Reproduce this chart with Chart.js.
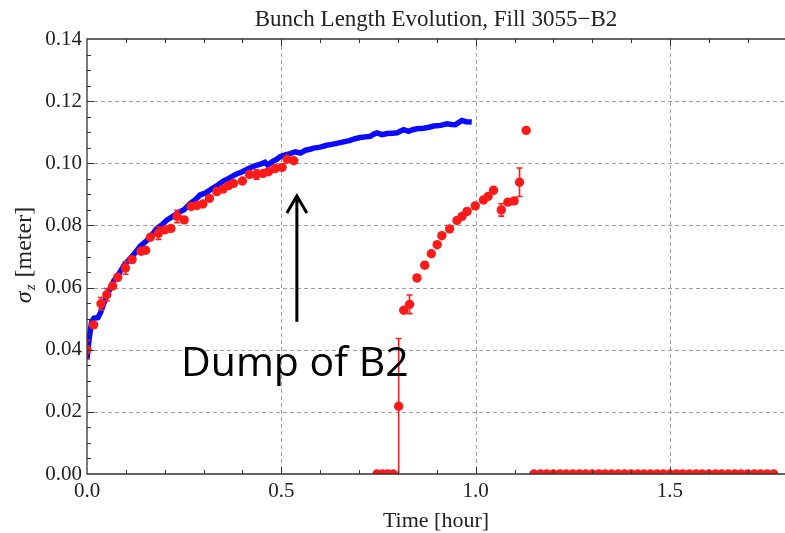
<!DOCTYPE html>
<html>
<head>
<meta charset="utf-8">
<script src="https://cdn.jsdelivr.net/npm/chart.js@4.4.1/dist/chart.umd.min.js"></script>
<style>
  html, body { margin: 0; padding: 0; background: #fff; }
  #wrap { width: 785px; height: 533px; }
</style>
</head>
<body>
<div id="wrap"><canvas id="bunchChart" width="785" height="533"></canvas></div>
<script>
// Bunch length evolution data (time in hours, sigma_z in meters)

// Simulated bunch length (blue curve)
const blueTime = [0.000, 0.006, 0.012, 0.018, 0.028, 0.035, 0.042, 0.055, 0.069, 0.080,
    0.094, 0.107, 0.120, 0.137, 0.154, 0.166, 0.180, 0.193, 0.206, 0.222,
    0.240, 0.249, 0.266, 0.278, 0.291, 0.306, 0.322, 0.337, 0.351, 0.366,
    0.382, 0.398, 0.416, 0.430, 0.446, 0.458, 0.465, 0.476, 0.487, 0.497,
    0.510, 0.523, 0.536, 0.549, 0.562, 0.574, 0.583, 0.600, 0.617, 0.626,
    0.643, 0.660, 0.675, 0.690, 0.703, 0.716, 0.729, 0.738, 0.746, 0.759,
    0.772, 0.785, 0.798, 0.807, 0.815, 0.827, 0.838, 0.849, 0.866, 0.880,
    0.892, 0.910, 0.926, 0.938, 0.948, 0.956, 0.965, 0.975, 0.990];
const blueSigma = [0.0370, 0.0440, 0.0490, 0.0502, 0.0503, 0.0520, 0.0545, 0.0585, 0.0622, 0.0640,
    0.0669, 0.0688, 0.0706, 0.0733, 0.0751, 0.0768, 0.0791, 0.0802, 0.0818, 0.0830,
    0.0845, 0.0850, 0.0871, 0.0882, 0.0898, 0.0905, 0.0919, 0.0930, 0.0943, 0.0952,
    0.0964, 0.0972, 0.0983, 0.0991, 0.0997, 0.1003, 0.0994, 0.1005, 0.1012, 0.1021,
    0.1027, 0.1031, 0.1037, 0.1033, 0.1042, 0.1045, 0.1049, 0.1052, 0.1058, 0.1060,
    0.1064, 0.1069, 0.1073, 0.1079, 0.1083, 0.1085, 0.1087, 0.1094, 0.1098, 0.1092,
    0.1096, 0.1097, 0.1098, 0.1104, 0.1108, 0.1103, 0.1108, 0.1111, 0.1113, 0.1116,
    0.1120, 0.1122, 0.1127, 0.1125, 0.1124, 0.1131, 0.1138, 0.1134, 0.1133];

// Measured bunch length (red points) with error
const redTime = [0.000, 0.017, 0.036, 0.051, 0.066, 0.079, 0.099, 0.116, 0.139, 0.151,
    0.163, 0.184, 0.201, 0.216, 0.232, 0.250, 0.268, 0.283, 0.298, 0.315,
    0.334, 0.350, 0.364, 0.377, 0.400, 0.418, 0.436, 0.453, 0.467, 0.484,
    0.502, 0.515, 0.532,
    0.746, 0.760, 0.774, 0.788, 0.802,
    0.815, 0.830, 0.849, 0.869, 0.886, 0.901, 0.913, 0.933, 0.952, 0.965,
    0.978, 0.999, 1.020, 1.032, 1.046, 1.066, 1.083, 1.099, 1.113, 1.130,
    1.150, 1.167, 1.183, 1.200, 1.217, 1.233, 1.250, 1.267, 1.283, 1.300,
    1.317, 1.333, 1.350, 1.367, 1.383, 1.400, 1.417, 1.433, 1.450, 1.467,
    1.483, 1.500, 1.517, 1.533, 1.550, 1.567, 1.583, 1.600, 1.617, 1.633,
    1.650, 1.667, 1.683, 1.700, 1.717, 1.733, 1.750, 1.767];
const redSigma = [0.0400, 0.0480, 0.0548, 0.0577, 0.0605, 0.0633, 0.0663, 0.0690, 0.0717, 0.0720,
    0.0762, 0.0775, 0.0786, 0.0790, 0.0829, 0.0818, 0.0861, 0.0864, 0.0869, 0.0887,
    0.0909, 0.0917, 0.0928, 0.0935, 0.0943, 0.0964, 0.0964, 0.0967, 0.0973, 0.0983,
    0.0987, 0.1013, 0.1008,
    0, 0, 0, 0, 0.0218,
    0.0527, 0.0546, 0.0631, 0.0672, 0.0709, 0.0738, 0.0767, 0.0789, 0.0816, 0.0829,
    0.0845, 0.0863, 0.0882, 0.0893, 0.0913, 0.0850, 0.0875, 0.0879, 0.0939, 0.1106,
    0, 0, 0, 0, 0, 0, 0, 0, 0, 0,
    0, 0, 0, 0, 0, 0, 0, 0, 0, 0,
    0, 0, 0, 0, 0, 0, 0, 0, 0, 0,
    0, 0, 0, 0, 0, 0, 0, 0];
const redErr = [0.0030, 0, 0.0020, 0.0020, 0, 0.0010, 0.0020, 0, 0, 0,
    0, 0.0020, 0, 0, 0.0020, 0, 0, 0, 0, 0,
    0, 0, 0, 0, 0, 0, 0.0015, 0, 0, 0,
    0, 0, 0,
    0, 0, 0, 0, 0.0218,
    0, 0.0030, 0.0010, 0.0010, 0, 0, 0, 0, 0, 0,
    0, 0, 0, 0, 0, 0.0020, 0, 0, 0.0046, 0];

// Axis ticks
const xTicks = [0.0, 0.5, 1.0, 1.5];
const yTicks = [0.00, 0.02, 0.04, 0.06, 0.08, 0.10, 0.12, 0.14];
const xMinorStep = 0.1;
const yMinorStep = 0.005;

// Annotation (arrow pointing at dump time)
const dumpLabel = 'Dump of B2';
const arrowTime = 0.54;
const arrowFrom = 0.049;
const arrowTo = 0.0895;

const serif = "'Liberation Serif', 'Times New Roman', serif";

function toPoints(xs, ys) {
    return xs.map((x, i) => ({ x: x, y: ys[i] }));
}

// Draws dashed grid, frame, inward ticks, axis titles and the annotation
const framePlugin = {
    id: 'framePlugin',
    beforeDatasetsDraw(chart) {
        const { ctx, chartArea: a, scales } = chart;
        ctx.save();
        ctx.strokeStyle = '#a0a0a0';
        ctx.lineWidth = 1;
        ctx.setLineDash([4, 3]);
        xTicks.forEach(v => {
            if (v === 0) return;
            const px = Math.round(scales.x.getPixelForValue(v)) + 0.5;
            ctx.beginPath();
            ctx.moveTo(px, a.top);
            ctx.lineTo(px, a.bottom);
            ctx.stroke();
        });
        yTicks.forEach(v => {
            if (v === 0 || v === 0.14) return;
            const py = Math.round(scales.y.getPixelForValue(v)) + 0.5;
            ctx.beginPath();
            ctx.moveTo(a.left, py);
            ctx.lineTo(a.right, py);
            ctx.stroke();
        });
        ctx.restore();
    },
    afterDatasetsDraw(chart) {
        const { ctx, chartArea: a, scales } = chart;
        ctx.save();

        // error bars
        ctx.strokeStyle = '#ff1a1a';
        ctx.lineWidth = 1.6;
        ctx.beginPath();
        ctx.rect(a.left, a.top, a.right - a.left, a.bottom - a.top);
        ctx.clip();
        redErr.forEach((e, i) => {
            if (!e) return;
            const px = scales.x.getPixelForValue(redTime[i]);
            const top = scales.y.getPixelForValue(redSigma[i] + e);
            const bot = scales.y.getPixelForValue(Math.max(redSigma[i] - e, 0));
            ctx.beginPath();
            ctx.moveTo(px, top);
            ctx.lineTo(px, bot);
            ctx.moveTo(px - 3, top);
            ctx.lineTo(px + 3, top);
            if (redSigma[i] - e > 0) {
                ctx.moveTo(px - 3, bot);
                ctx.lineTo(px + 3, bot);
            }
            ctx.stroke();
        });
        ctx.restore();

        ctx.save();
        // frame
        ctx.strokeStyle = '#333';
        ctx.lineWidth = 1.3;
        ctx.beginPath();
        ctx.moveTo(a.right, a.top);
        ctx.lineTo(a.left, a.top);
        ctx.lineTo(a.left, a.bottom);
        ctx.lineTo(a.right, a.bottom);
        ctx.stroke();

        // inward ticks
        ctx.lineWidth = 1;
        for (let k = 1; k * xMinorStep < scales.x.max; k++) {
            const v = k * xMinorStep;
            const len = k % 5 === 0 ? 7 : 4;
            const px = Math.round(scales.x.getPixelForValue(v)) + 0.5;
            ctx.beginPath();
            ctx.moveTo(px, a.bottom);
            ctx.lineTo(px, a.bottom - len);
            ctx.moveTo(px, a.top);
            ctx.lineTo(px, a.top + len);
            ctx.stroke();
        }
        for (let k = 1; k * yMinorStep < scales.y.max - 1e-9; k++) {
            const v = k * yMinorStep;
            const len = k % 4 === 0 ? 7 : 4;
            const py = Math.round(scales.y.getPixelForValue(v)) + 0.5;
            ctx.beginPath();
            ctx.moveTo(a.left, py);
            ctx.lineTo(a.left + len, py);
            ctx.stroke();
        }

        // axis titles
        ctx.fillStyle = '#222';
        ctx.textAlign = 'center';
        ctx.textBaseline = 'middle';
        ctx.font = '22px ' + serif;
        ctx.fillText('Time [hour]', (a.left + a.right) / 2, 521);

        ctx.translate(25, 255);
        ctx.rotate(-Math.PI / 2);
        ctx.textAlign = 'left';
        ctx.font = 'italic 24px ' + serif;
        const sigW = ctx.measureText('σ').width;
        ctx.font = 'italic 15px ' + serif;
        const zW = ctx.measureText('z').width + 2;
        ctx.font = '24px ' + serif;
        const restW = ctx.measureText(' [meter]').width;
        const x0 = -(sigW + zW + restW) / 2;
        ctx.font = 'italic 24px ' + serif;
        ctx.fillText('σ', x0, 0);
        ctx.font = 'italic 15px ' + serif;
        ctx.fillText('z', x0 + sigW + 1, 6);
        ctx.font = '24px ' + serif;
        ctx.fillText(' [meter]', x0 + sigW + zW, 0);
        ctx.restore();

        // annotation arrow + label
        ctx.save();
        const ax = scales.x.getPixelForValue(arrowTime);
        const ay0 = scales.y.getPixelForValue(arrowFrom);
        const ay1 = scales.y.getPixelForValue(arrowTo);
        ctx.strokeStyle = '#000';
        ctx.lineWidth = 3;
        ctx.beginPath();
        ctx.moveTo(ax, ay0);
        ctx.lineTo(ax, ay1);
        ctx.moveTo(ax - 10, ay1 + 17);
        ctx.lineTo(ax, ay1);
        ctx.lineTo(ax + 10, ay1 + 17);
        ctx.stroke();
        ctx.fillStyle = '#000';
        ctx.font = "41px 'Open Sans', 'Noto Sans', sans-serif";
        ctx.textAlign = 'left';
        ctx.textBaseline = 'alphabetic';
        ctx.fillText(dumpLabel, 181, 376);
        ctx.restore();
    }
};

const ctx = document.getElementById('bunchChart').getContext('2d');
new Chart(ctx, {
    type: 'scatter',
    data: {
        datasets: [
            {
                label: 'Measured',
                data: toPoints(redTime, redSigma),
                backgroundColor: '#ff1a1a',
                borderWidth: 0,
                pointRadius: 4.7,
                clip: 0
            },
            {
                label: 'Simulation',
                data: toPoints(blueTime, blueSigma),
                showLine: true,
                borderColor: '#0a0aff',
                borderWidth: 5.5,
                pointRadius: 0,
                tension: 0,
                clip: 0
            }
        ]
    },
    options: {
        responsive: false,
        animation: false,
        events: [],
        layout: { autoPadding: false, padding: { left: 0, right: 0, top: 0, bottom: 0 } },
        plugins: {
            legend: { display: false },
            tooltip: { enabled: false },
            title: {
                display: true,
                fullSize: false,
                text: 'Bunch Length Evolution, Fill 3055\u2212B2',
                color: '#222',
                font: { family: serif, size: 23, weight: 'normal' },
                padding: { top: 6, bottom: 5.4 }
            }
        },
        scales: {
            x: {
                type: 'linear',
                min: 0,
                max: 1.796,
                grid: { display: false, drawTicks: false },
                border: { display: false },
                afterFit: scale => { scale.height = 59; },
                ticks: {
                    stepSize: 0.5,
                    includeBounds: false,
                    autoSkip: false,
                    maxRotation: 0,
                    padding: 5,
                    color: '#222',
                    font: { family: serif, size: 21 },
                    callback: v => v.toFixed(1)
                }
            },
            y: {
                type: 'linear',
                min: 0,
                max: 0.14,
                grid: { display: false, drawTicks: false },
                border: { display: false },
                afterFit: scale => { scale.width = 87; },
                ticks: {
                    stepSize: 0.02,
                    autoSkip: false,
                    padding: 5,
                    color: '#222',
                    font: { family: serif, size: 21 },
                    callback: v => v.toFixed(2)
                }
            }
        }
    },
    plugins: [framePlugin]
});
</script>
</body>
</html>
